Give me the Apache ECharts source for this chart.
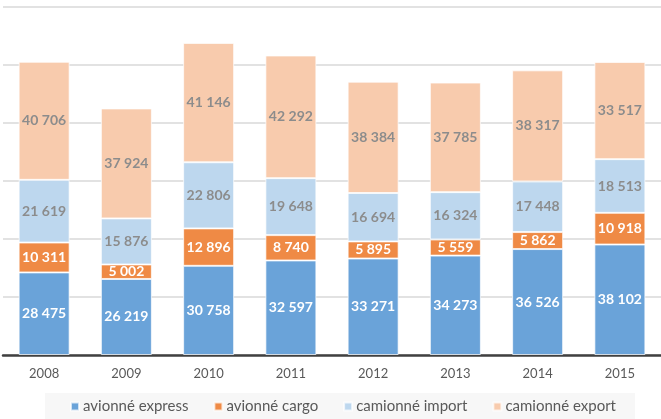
<!DOCTYPE html>
<html>
<head>
<meta charset="utf-8">
<script src="https://cdn.jsdelivr.net/npm/echarts@6/dist/echarts.min.js"></script>
<style>
  html, body { margin: 0; padding: 0; background: #fff; }
  #chart { width: 661px; height: 419px; }
</style>
</head>
<body>
<div id="chart"></div>
<script>
const years = ["2008", "2009", "2010", "2011", "2012", "2013", "2014", "2015"];
const avionneExpress = [28475, 26219, 30758, 32597, 33271, 34273, 36526, 38102];
const avionneCargo = [10311, 5002, 12896, 8740, 5895, 5559, 5862, 10918];
const camionneImport = [21619, 15876, 22806, 19648, 16694, 16324, 17448, 18513];
const camionneExport = [40706, 37924, 41146, 42292, 38384, 37785, 38317, 33517];

// "28 475" style
function fmt(v) {
  return String(v).replace(/\B(?=(\d{3})+(?!\d))/g, " ");
}

function serie(name, data, color, labelColor) {
  return {
    name: name,
    type: "bar",
    stack: "total",
    data: data,
    barWidth: 51,
    itemStyle: { color: color, borderColor: "rgba(255,255,255,0.7)", borderWidth: 1 },
    label: {
      show: true,
      position: "inside",
      color: labelColor,
      fontFamily: "Lato",
      fontWeight: "bold",
      fontSize: 14,
      formatter: (p) => fmt(p.value),
    },
  };
}

const chart = echarts.init(document.getElementById("chart"));
chart.setOption({
  animation: false,
  textStyle: { fontFamily: "Lato" },
  grid: { left: 3, right: -6, top: 7, bottom: 64 },
  xAxis: {
    type: "category",
    data: years,
    axisTick: { show: false },
    axisLine: { lineStyle: { color: "#404040", width: 2.5 } },
    axisLabel: { color: "#595959", fontSize: 13, margin: 12 },
  },
  yAxis: {
    type: "value",
    min: 0,
    max: 120000,
    interval: 20000,
    axisLabel: { show: false },
    axisLine: { show: false },
    axisTick: { show: false },
    splitLine: { lineStyle: { color: "#d9d9d9", width: 1.5 } },
  },
  legend: {
    left: 45,
    top: 393,
    backgroundColor: "#f7f7f7",
    padding: [6, 19, 6, 25],
    itemWidth: 8,
    itemHeight: 8,
    itemGap: 25,
    icon: "rect",
    textStyle: { color: "#595959", fontSize: 15, padding: [0, 0, 0, -1] },
  },
  series: [
    serie("avionné express", avionneExpress, "#6aa3d9", "#ffffff"),
    serie("avionné cargo", avionneCargo, "#ef8a45", "#ffffff"),
    serie("camionné import", camionneImport, "#bdd7ee", "#8c8c8c"),
    serie("camionné export", camionneExport, "#f8cbad", "#8c8c8c"),
  ],
});
</script>
</body>
</html>
